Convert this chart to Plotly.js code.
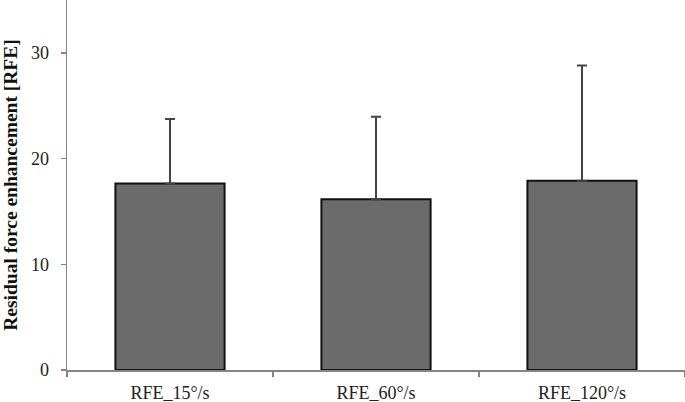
<!DOCTYPE html>
<html><head><meta charset="utf-8">
<script src="https://cdn.plot.ly/plotly-3.0.1.min.js"></script>
<style>body{margin:0;background:#fff}#c{width:685px;height:402px}</style>
</head><body><div id="c"></div>
<script>
var categories = ["RFE_15°/s", "RFE_60°/s", "RFE_120°/s"];
var means = [17.65, 16.15, 17.9];
var sds = [6.1, 7.8, 10.9];
var yTicks = [0, 10, 20, 30];

var trace = {
  type: "bar", x: categories, y: means,
  marker: {color: "#6b6b6b", line: {color: "#111111", width: 2}},
  error_y: {type: "data", array: sds, arrayminus: sds.map(function(){return 0;}), symmetric: false,
            color: "#444444", thickness: 2, width: 5},
  hoverinfo: "none"
};
var layout = {
  width: 685, height: 402,
  margin: {l: 67, r: 0, t: 0, b: 32},
  paper_bgcolor: "#fff", plot_bgcolor: "#fff",
  bargap: 0.47, showlegend: false,
  font: {family: "Liberation Serif, Times New Roman, serif", color: "#222"},
  xaxis: {showline: true, linecolor: "#858585", linewidth: 1.5, ticks: "outside", tickson: "boundaries",
          ticklen: 5, tickcolor: "#858585", tickwidth: 1.5, tickfont: {size: 18, color: "#222"},
          showgrid: false, zeroline: false, ticklabelstandoff: 6},
  yaxis: {range: [0, 35], tickvals: yTicks, ticktext: yTicks.map(String), showline: true,
          linecolor: "#858585", linewidth: 1.5, ticks: "outside", ticklen: 5, tickcolor: "#858585", tickwidth: 1.5,
          tickfont: {size: 18, color: "#222"}, showgrid: false, zeroline: false, ticklabelstandoff: 8,
          title: {text: "<b>Residual force enhancement [RFE]</b>", font: {size: 19.5, color: "#111"}, standoff: 8}}
};
Plotly.newPlot("c", [trace], layout, {staticPlot: true});
</script></body></html>
